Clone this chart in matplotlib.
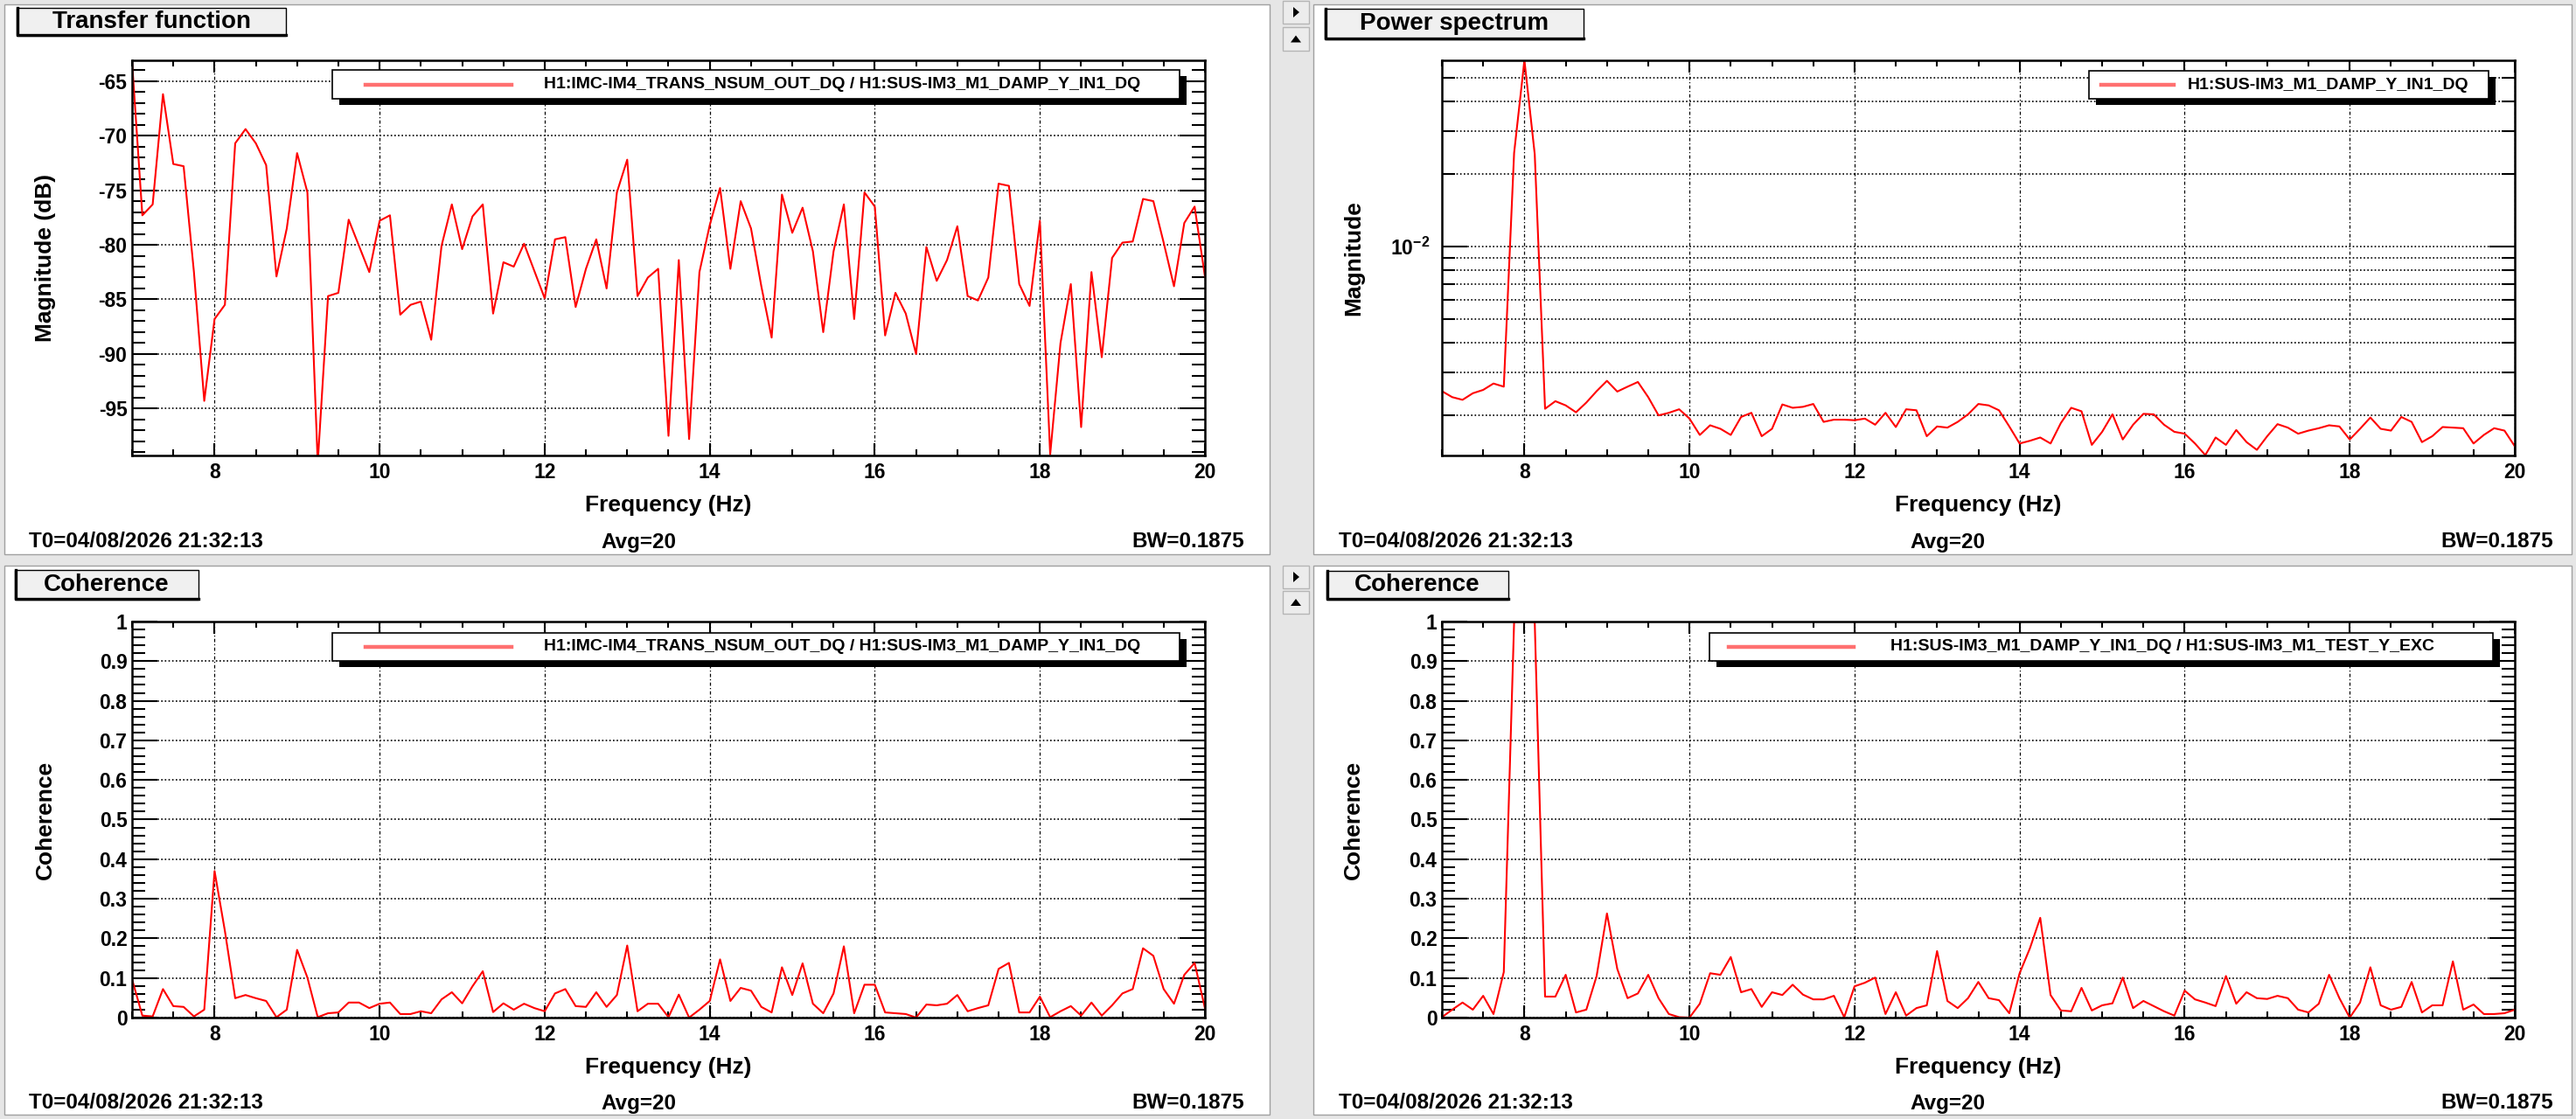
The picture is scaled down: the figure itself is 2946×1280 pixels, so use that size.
import numpy as np
import matplotlib
matplotlib.use("Agg")
import matplotlib.pyplot as plt
from matplotlib.patches import Rectangle, Polygon
from matplotlib.lines import Line2D
from matplotlib.ticker import MultipleLocator, FuncFormatter, NullFormatter, LogLocator

plt.rcParams['font.family'] = ['Liberation Sans', 'DejaVu Sans']
plt.rcParams['font.weight'] = 'bold'
plt.rcParams['axes.unicode_minus'] = False
plt.rcParams['mathtext.default'] = 'regular'

# frequency bins (0.125 Hz spacing, 7..20 Hz)
freq = np.arange(7.0, 20.0625, 0.125)

# transfer function magnitude (dB)
tf_db = [-63.2, -77.3, -76.3, -66.2, -72.6, -72.8, -82.5, -94.3, -86.8, -85.5,
         -70.7, -69.4, -70.7, -72.7, -82.9, -78.5, -71.6, -75.2, -100.0, -84.7,
         -84.4, -77.7, -80.1, -82.5, -77.8, -77.3, -86.4, -85.5, -85.2, -88.7,
         -80.1, -76.3, -80.4, -77.4, -76.3, -86.3, -81.6, -82.0, -79.9, -82.4,
         -84.9, -79.5, -79.3, -85.7, -82.2, -79.5, -84.0, -75.2, -72.2, -84.7,
         -83.0, -82.2, -97.5, -81.4, -97.8, -82.5, -78.2, -74.8, -82.2, -76.0,
         -78.5, -83.8, -88.5, -75.4, -78.9, -76.6, -80.6, -88.0, -80.6, -76.3,
         -86.8, -75.2, -76.5, -88.3, -84.4, -86.3, -90.0, -80.2, -83.3, -81.4,
         -78.3, -84.7, -85.1, -83.0, -74.4, -74.6, -83.6, -85.6, -77.8, -99.2,
         -89.0, -83.6, -96.7, -82.5, -90.3, -81.2, -79.8, -79.7, -75.8, -76.0,
         -79.8, -83.8, -78.0, -76.5, -82.9]

# power spectrum (units of 1e-3)
ps_milli = [2.52, 2.38, 2.32, 2.47, 2.55, 2.71, 2.63, 24.4, 59.0, 24.1,
            2.13, 2.29, 2.20, 2.06, 2.26, 2.52, 2.78, 2.51, 2.63, 2.75,
            2.38, 2.00, 2.05, 2.12, 1.94, 1.66, 1.82, 1.76, 1.66, 1.97,
            2.05, 1.64, 1.76, 2.22, 2.15, 2.17, 2.23, 1.88, 1.92, 1.92,
            1.91, 1.94, 1.83, 2.05, 1.79, 2.12, 2.10, 1.64, 1.80, 1.78,
            1.88, 2.02, 2.23, 2.20, 2.10, 1.80, 1.53, 1.57, 1.62, 1.53,
            1.86, 2.15, 2.08, 1.51, 1.71, 2.02, 1.59, 1.83, 2.03, 2.02,
            1.83, 1.71, 1.68, 1.53, 1.37, 1.62, 1.51, 1.74, 1.55, 1.44,
            1.64, 1.84, 1.78, 1.68, 1.73, 1.77, 1.82, 1.80, 1.59, 1.76,
            1.96, 1.76, 1.73, 1.97, 1.88, 1.55, 1.64, 1.79, 1.78, 1.77,
            1.53, 1.66, 1.77, 1.73, 1.49]

coh_tf = [0.097, 0.005, 0.003, 0.072, 0.029, 0.027, 0.003, 0.020, 0.370, 0.219,
          0.049, 0.057, 0.049, 0.042, 0.001, 0.020, 0.171, 0.101, 0.001, 0.011,
          0.013, 0.038, 0.038, 0.024, 0.035, 0.038, 0.009, 0.009, 0.016, 0.011,
          0.046, 0.064, 0.036, 0.079, 0.117, 0.014, 0.036, 0.020, 0.035, 0.024,
          0.016, 0.061, 0.072, 0.029, 0.027, 0.064, 0.027, 0.057, 0.182, 0.016,
          0.035, 0.035, 0.001, 0.058, 0.000, 0.020, 0.042, 0.147, 0.042, 0.075,
          0.068, 0.027, 0.013, 0.127, 0.057, 0.137, 0.035, 0.011, 0.061, 0.180,
          0.011, 0.083, 0.083, 0.013, 0.011, 0.009, 0.000, 0.033, 0.031, 0.035,
          0.057, 0.016, 0.024, 0.031, 0.123, 0.138, 0.013, 0.013, 0.053, 0.001,
          0.016, 0.029, 0.005, 0.038, 0.005, 0.031, 0.061, 0.072, 0.175, 0.156,
          0.072, 0.035, 0.108, 0.138, 0.024]

coh_exc = [0.001, 0.020, 0.038, 0.020, 0.055, 0.009, 0.115, 0.999, 1.000, 0.998,
           0.053, 0.053, 0.108, 0.013, 0.020, 0.105, 0.263, 0.123, 0.049, 0.061,
           0.108, 0.049, 0.009, 0.001, 0.000, 0.035, 0.112, 0.108, 0.153, 0.064,
           0.072, 0.027, 0.064, 0.057, 0.083, 0.058, 0.046, 0.046, 0.055, 0.001,
           0.079, 0.088, 0.101, 0.009, 0.064, 0.005, 0.024, 0.031, 0.168, 0.042,
           0.024, 0.049, 0.090, 0.049, 0.044, 0.011, 0.112, 0.175, 0.252, 0.057,
           0.018, 0.016, 0.075, 0.018, 0.031, 0.036, 0.101, 0.024, 0.042, 0.029,
           0.016, 0.005, 0.068, 0.046, 0.038, 0.029, 0.105, 0.035, 0.064, 0.049,
           0.047, 0.055, 0.049, 0.020, 0.013, 0.035, 0.108, 0.049, 0.000, 0.038,
           0.127, 0.031, 0.020, 0.027, 0.090, 0.013, 0.031, 0.031, 0.142, 0.020,
           0.033, 0.009, 0.009, 0.011, 0.020]

chan_tf = "H1:IMC-IM4_TRANS_NSUM_OUT_DQ / H1:SUS-IM3_M1_DAMP_Y_IN1_DQ"
chan_ps = "H1:SUS-IM3_M1_DAMP_Y_IN1_DQ"
chan_exc = "H1:SUS-IM3_M1_DAMP_Y_IN1_DQ / H1:SUS-IM3_M1_TEST_Y_EXC"
status = ("T0=04/08/2026 21:32:13", "Avg=20", "BW=0.1875")

W, H = 2946, 1280
fig = plt.figure(figsize=(W / 100, H / 100), dpi=100, facecolor='#e6e6e6')


def fx(x):
    return x / W


def fy(y):
    return 1 - y / H


def box(x0, y0, x1, y1, z=1, **kw):
    r = Rectangle((fx(x0), fy(y1)), fx(x1) - fx(x0), fy(y0) - fy(y1),
                  transform=fig.transFigure, zorder=z, **kw)
    fig.patches.append(r)


def fline(xs, ys, z=6, **kw):
    fig.lines.append(Line2D([fx(v) for v in xs], [fy(v) for v in ys],
                            transform=fig.transFigure, zorder=z, **kw))


def title_box(x0, y0, x1, y1, txt):
    box(x0, y0, x1, y1, z=5, facecolor='#f0f0f0', edgecolor='black', lw=1.0)
    fline([x0 + 1, x0 + 1, x1], [y0, y1 - 1, y1 - 1], color='black', lw=2.4)
    fig.text(fx((x0 + x1) / 2), fy((y0 + y1) / 2), txt, ha='center', va='center',
             fontsize=20, zorder=7)


def legend_box(x0, y0, x1, y1, lx0, lx1, tx, txt):
    box(x0 + 8, y0 + 7, x1 + 8, y1 + 7, z=5, facecolor='black', edgecolor='none')
    box(x0, y0, x1, y1, z=5.5, facecolor='white', edgecolor='black', lw=1.2)
    ym = (y0 + y1) / 2
    fline([lx0, lx1], [ym, ym], color='#ff7070', lw=3.2)
    fig.text(fx(tx), fy(ym), txt, ha='left', va='center', fontsize=14, zorder=7)


def button(x0, y0, x1, y1, kind):
    box(x0, y0, x1, y1, z=2, facecolor='#ececec', edgecolor='#b5b5b5', lw=1.0)
    cx, cy = (x0 + x1) / 2, (y0 + y1) / 2
    if kind == 'right':
        pts = [(cx - 3, cy - 6), (cx - 3, cy + 6), (cx + 4, cy)]
    else:
        pts = [(cx - 6, cy + 4), (cx + 6, cy + 4), (cx, cy - 4)]
    fig.patches.append(Polygon([(fx(a), fy(b)) for a, b in pts], closed=True,
                               transform=fig.transFigure, facecolor='black',
                               edgecolor='none', zorder=3))


def make_axes(x0, y0, x1, y1):
    ax = fig.add_axes([fx(x0), fy(y1), fx(x1) - fx(x0), fy(y0) - fy(y1)])
    ax.set_facecolor('white')
    for s in ax.spines.values():
        s.set_linewidth(1.8)
    ax.set_xlim(7, 20)
    ax.xaxis.set_major_locator(MultipleLocator(2))
    ax.xaxis.set_minor_locator(MultipleLocator(0.5))
    ax.tick_params(which='both', direction='in', top=True, right=True,
                   labelsize=16.5, width=1.5, color='black')
    ax.tick_params(axis='x', which='major', length=10, pad=6)
    ax.tick_params(axis='x', which='minor', length=5)
    ax.tick_params(axis='y', which='major', length=21, pad=4)
    ax.tick_params(axis='y', which='minor', length=11)
    ax.grid(True, which='major', axis='x', color='black', lw=0.9,
            linestyle=(0, (3, 2, 1, 2)))
    ax.grid(True, which='major', axis='y', color='black', lw=1.2,
            linestyle=(0, (1, 1.5)))
    ax.set_axisbelow(True)
    return ax


# panels
for (a, b, c, d) in [(5, 5, 1452, 634), (1502, 5, 2941, 634),
                     (5, 647, 1452, 1275), (1502, 647, 2941, 1275)]:
    box(a, b, c, d, z=-5, facecolor='white', edgecolor='#a0a0a0', lw=1.0)

button(1467, 1, 1497, 27, 'right')
button(1467, 31, 1497, 58, 'up')
button(1467, 647, 1497, 673, 'right')
button(1467, 676, 1497, 702, 'up')

# top-left: transfer function
ax1 = make_axes(151, 69, 1378, 521)
ax1.plot(freq, tf_db, color='red', lw=1.5)
ax1.set_ylim(-99.3, -63.1)
ax1.yaxis.set_major_locator(MultipleLocator(5))
ax1.yaxis.set_minor_locator(MultipleLocator(1))

# top-right: power spectrum
ax2 = make_axes(1649, 69, 2876, 521)
ax2.plot(freq, np.array(ps_milli) * 1e-3, color='red', lw=1.5)
ax2.set_yscale('log')
ax2.set_ylim(1.365e-3, 5.9e-2)
ax2.yaxis.set_major_locator(LogLocator(base=10))
ax2.yaxis.set_minor_locator(LogLocator(base=10, subs=np.arange(2, 10)))
ax2.yaxis.set_minor_formatter(NullFormatter())
ax2.grid(True, which='minor', axis='y', color='black', lw=1.2,
         linestyle=(0, (1, 1.5)))
ax2.tick_params(axis='y', which='major', pad=10)

# bottom: coherences
ax3 = make_axes(151, 711, 1378, 1164)
ax3.plot(freq, coh_tf, color='red', lw=1.5)
ax4 = make_axes(1649, 711, 2876, 1164)
ax4.plot(freq, coh_exc, color='red', lw=1.5)
for ax in (ax3, ax4):
    ax.set_ylim(0, 1)
    ax.yaxis.set_major_locator(MultipleLocator(0.1))
    ax.yaxis.set_minor_locator(MultipleLocator(0.02))
    ax.yaxis.set_major_formatter(FuncFormatter(lambda v, p: f'{v:g}'))

# axis titles
for (cx, ylab_x, top, bot, ylab) in [(764, 52, 69, 521, 'Magnitude (dB)'),
                                      (2262, 1548, 69, 521, 'Magnitude'),
                                      (764, 52, 711, 1164, 'Coherence'),
                                      (2262, 1548, 711, 1164, 'Coherence')]:
    fig.text(fx(cx), fy(bot + 57), 'Frequency (Hz)', ha='center', va='center', fontsize=19)
    fig.text(fx(ylab_x), fy((top + bot) / 2), ylab, ha='center', va='center',
             rotation=90, fontsize=19)

# status lines
for (left, mid, right, y) in [(33, 730, 1423, 620), (1531, 2227, 2920, 620),
                              (33, 730, 1423, 1262), (1531, 2227, 2920, 1262)]:
    fig.text(fx(left), fy(y), status[0], ha='left', va='center', fontsize=17.5)
    fig.text(fx(mid), fy(y), status[1], ha='center', va='center', fontsize=17.5)
    fig.text(fx(right), fy(y), status[2], ha='right', va='center', fontsize=17.5)

title_box(19, 9, 327, 41, 'Transfer function')
title_box(1515, 10, 1811, 45, 'Power spectrum')
title_box(17, 652, 227, 686, 'Coherence')
title_box(1517, 653, 1725, 686, 'Coherence')

legend_box(380, 80, 1349, 113, 418, 585, 622, chan_tf)
legend_box(2389, 81, 2846, 113, 2403, 2486, 2502, chan_ps)
legend_box(380, 724, 1349, 756, 418, 585, 622, chan_tf)
legend_box(1955, 724, 2851, 756, 1977, 2120, 2162, chan_exc)

fig.savefig('out.png', dpi=100, facecolor=fig.get_facecolor())
